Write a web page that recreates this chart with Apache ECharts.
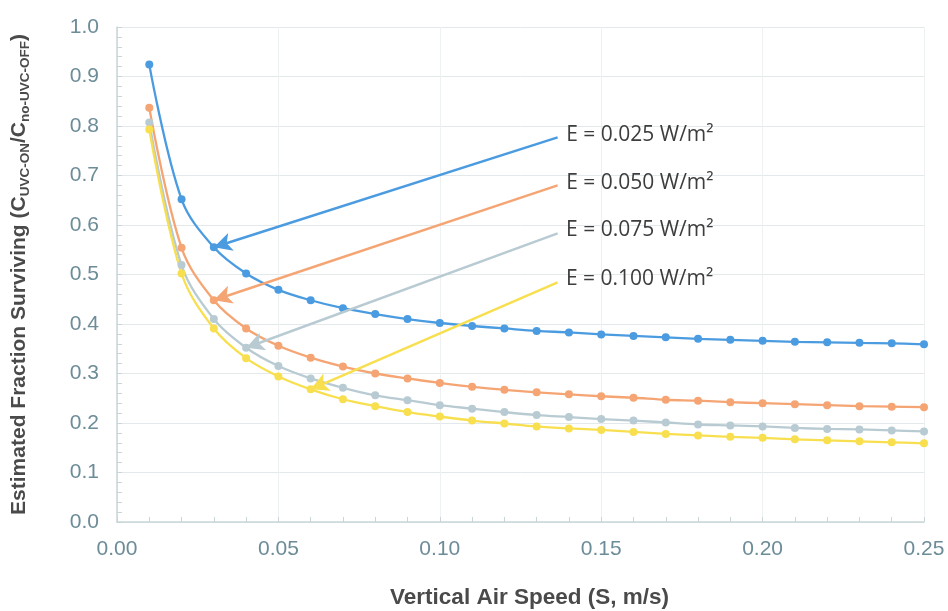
<!DOCTYPE html>
<html lang="en">
<head>
    <meta charset="UTF-8">
    <title>Estimated Fraction Surviving</title>
    <script src="https://cdn.jsdelivr.net/npm/echarts@6/dist/echarts.min.js"></script>
    <style>
        html, body { margin: 0; padding: 0; background: #fff; }
    </style>
</head>
<body>
<div id="main" style="width: 948px;height:611px;"></div>
<script type="text/javascript">
    // vertical air speed, m/s
    var speeds = [0.01, 0.02, 0.03, 0.04, 0.05, 0.06, 0.07, 0.08, 0.09, 0.10,
        0.11, 0.12, 0.13, 0.14, 0.15, 0.16, 0.17, 0.18, 0.19, 0.20,
        0.21, 0.22, 0.23, 0.24, 0.25];

    // fraction surviving for each irradiance
    var e025 = [0.924, 0.652, 0.555, 0.502, 0.469, 0.448, 0.432, 0.420, 0.410, 0.402,
        0.396, 0.391, 0.386, 0.383, 0.379, 0.376, 0.373, 0.370, 0.368, 0.366,
        0.364, 0.363, 0.362, 0.361, 0.359];
    var e050 = [0.837, 0.554, 0.448, 0.391, 0.356, 0.332, 0.314, 0.300, 0.290, 0.281,
        0.273, 0.267, 0.262, 0.258, 0.254, 0.251, 0.247, 0.245, 0.242, 0.240,
        0.238, 0.236, 0.234, 0.233, 0.232];
    var e075 = [0.807, 0.519, 0.410, 0.352, 0.315, 0.290, 0.271, 0.256, 0.246, 0.236,
        0.229, 0.222, 0.216, 0.212, 0.208, 0.205, 0.201, 0.197, 0.195, 0.193,
        0.190, 0.188, 0.187, 0.185, 0.183];
    var e100 = [0.793, 0.502, 0.391, 0.331, 0.294, 0.268, 0.248, 0.234, 0.222, 0.213,
        0.205, 0.199, 0.193, 0.189, 0.186, 0.182, 0.178, 0.175, 0.172, 0.170,
        0.167, 0.165, 0.163, 0.161, 0.159];

    var seriesNames = ['E = 0.025 W/m²', 'E = 0.050 W/m²', 'E = 0.075 W/m²', 'E = 0.100 W/m²'];
    var seriesValues = [e025, e050, e075, e100];
    var colors = ['#4b9be0', '#f5a573', '#b9cbd2', '#f8df4f'];

    // callout arrows: index of the point pointed at, and where the label sits
    var arrowPointIndex = [2, 2, 3, 5];
    var labelAnchors = [[0.1365, 0.777], [0.1365, 0.680], [0.1365, 0.583], [0.1365, 0.484]];

    var myChart = echarts.init(document.getElementById('main'));

    var axisColor = '#c9d5d9';
    var labelColor = '#6c8c98';

    var series = [];
    for (var i = 0; i < seriesValues.length; i++) {
        var pts = [];
        for (var j = 0; j < speeds.length; j++) {
            pts.push([speeds[j], seriesValues[i][j]]);
        }
        var k = arrowPointIndex[i];
        series.push({
            name: seriesNames[i],
            type: 'line',
            data: pts,
            smooth: 0.35,
            symbol: 'circle',
            symbolSize: 8,
            showSymbol: true,
            lineStyle: { width: 2.3, color: colors[i] },
            itemStyle: { color: colors[i] },
            z: 3,
            markLine: {
                silent: true,
                animation: false,
                lineStyle: { type: 'solid', width: 2.5, color: colors[i] },
                label: {
                    show: true,
                    position: 'end',
                    distance: 9,
                    formatter: seriesNames[i],
                    color: '#3d3d3d',
                    fontFamily: 'Open Sans',
                    fontSize: 21
                },
                data: [[
                    { coord: [speeds[k], seriesValues[i][k]], symbol: 'arrow', symbolSize: [14, 18] },
                    { coord: labelAnchors[i], symbol: 'none' }
                ]]
            }
        });
    }

    myChart.setOption({
        animation: false,
        backgroundColor: '#ffffff',
        grid: { left: 117, right: 24, top: 27, bottom: 89, outerBoundsMode: 'none', containLabel: false },
        xAxis: {
            type: 'value',
            min: 0,
            max: 0.25,
            interval: 0.05,
            name: 'Vertical Air Speed (S, m/s)',
            nameLocation: 'middle',
            nameGap: 64,
            nameTextStyle: {
                color: '#4a4a4a',
                fontWeight: 'bold',
                fontSize: 22.5,
                fontFamily: 'Liberation Sans, Arial',
                padding: [0, 0, 0, 18]
            },
            axisLine: { show: true, lineStyle: { color: axisColor, width: 1.5 } },
            axisTick: { show: true, inside: true, length: 5, lineStyle: { color: axisColor } },
            minorTick: { show: true, splitNumber: 5, length: 5, lineStyle: { color: axisColor } },
            splitLine: { show: true, lineStyle: { color: '#edf1f2' } },
            axisLabel: {
                margin: 17,
                color: labelColor,
                fontSize: 21,
                fontFamily: 'Liberation Sans, Arial',
                formatter: function (v) { return v.toFixed(2); }
            }
        },
        yAxis: {
            type: 'value',
            min: 0,
            max: 1,
            interval: 0.1,
            name: '{t|Estimated Fraction Surviving (C}{s|UVC-ON}{t|/C}{s|no-UVC-OFF}{t|)}',
            nameLocation: 'middle',
            nameRotate: 90,
            nameGap: 85,
            nameTextStyle: {
                rich: {
                    t: {
                        color: '#4a4a4a', fontWeight: 'bold', fontSize: 21, lineHeight: 26,
                        fontFamily: 'Liberation Sans, Arial'
                    },
                    s: {
                        color: '#4a4a4a', fontWeight: 'bold', fontSize: 13.5, lineHeight: 14,
                        verticalAlign: 'bottom', fontFamily: 'Liberation Sans, Arial'
                    }
                }
            },
            axisLine: { show: true, lineStyle: { color: axisColor, width: 1.5 } },
            axisTick: { show: true, inside: true, length: 5, lineStyle: { color: axisColor } },
            minorTick: { show: true, splitNumber: 5, length: 5, lineStyle: { color: axisColor } },
            splitLine: { show: true, lineStyle: { color: '#e3e9eb' } },
            axisLabel: {
                margin: 18,
                color: labelColor,
                fontSize: 21,
                fontFamily: 'Liberation Sans, Arial',
                formatter: function (v) { return v.toFixed(1); }
            }
        },
        series: series
    });
</script>
</body>
</html>
